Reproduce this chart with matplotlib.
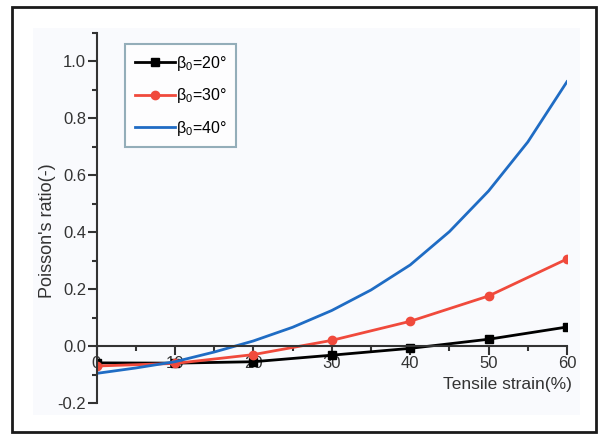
import matplotlib
matplotlib.use("Agg")
import matplotlib.pyplot as plt
from matplotlib.ticker import MultipleLocator, FormatStrFormatter
from matplotlib.patches import Rectangle

# Data
strain_markers = [0, 10, 20, 30, 40, 50, 60]
beta20 = [-0.059, -0.060, -0.055, -0.032, -0.008, 0.024, 0.067]
beta30 = [-0.070, -0.061, -0.030, 0.020, 0.087, 0.176, 0.306]
strain_curve = [0, 5, 10, 15, 20, 25, 30, 35, 40, 45, 50, 55, 60]
beta40 = [-0.096, -0.077, -0.055, -0.021, 0.018, 0.066, 0.125, 0.197, 0.285, 0.402, 0.545, 0.717, 0.929]
labels = [r'$\beta_0$=20°', r'$\beta_0$=30°', r'$\beta_0$=40°']
xticks = [0, 10, 20, 30, 40, 50, 60]
yticks = [-0.2, 0.0, 0.2, 0.4, 0.6, 0.8, 1.0]

plt.rcParams['font.family'] = ['Liberation Sans', 'DejaVu Sans']
plt.rcParams['mathtext.fontset'] = 'custom'
plt.rcParams['mathtext.rm'] = 'Liberation Sans'
plt.rcParams['mathtext.it'] = 'Liberation Sans'
plt.rcParams['mathtext.default'] = 'regular'

W, H = 598, 434
fig = plt.figure(figsize=(W / 100, H / 100), dpi=100)
fig.patch.set_facecolor('white')

# light plot-area background
fig.patches.append(Rectangle((33 / W, 1 - 415 / H), (580 - 33) / W, (415 - 28) / H,
                             transform=fig.transFigure, facecolor='#f9fafd',
                             edgecolor='none', zorder=-5))
# figure border
fig.patches.append(Rectangle((12 / W, 1 - 432 / H), (596 - 12) / W, (432 - 7) / H,
                             transform=fig.transFigure, fill=False,
                             edgecolor='#1a1a1a', linewidth=2.0, zorder=-4))

ax = fig.add_axes([96.5 / W, 1 - 403 / H, (567 - 96.5) / W, (403 - 33) / H])
ax.set_facecolor('none')
ax.set_zorder(2)

ax.plot(strain_markers, beta20, color='black', lw=2.0, marker='s', ms=6, label=labels[0])
ax.plot(strain_markers, beta30, color='#f04a3c', lw=2.0, marker='o', ms=6, label=labels[1])
ax.plot(strain_curve, beta40, color='#1f6cc4', lw=2.0, label=labels[2])

ax.set_xlim(0, 60)
ax.set_ylim(-0.2, 1.1)
ax.spines['top'].set_visible(False)
ax.spines['right'].set_visible(False)
ax.spines['bottom'].set_position(('data', 0))
for s in ['left', 'bottom']:
    ax.spines[s].set_linewidth(1.5)
    ax.spines[s].set_color('#333333')
ax.set_xticks(xticks)
ax.set_yticks(yticks)
ax.xaxis.set_minor_locator(MultipleLocator(5))
ax.yaxis.set_minor_locator(MultipleLocator(0.1))
ax.yaxis.set_major_formatter(FormatStrFormatter('%.1f'))
ax.tick_params(which='major', direction='out', length=6.5, width=1.5, color='#333333',
               labelsize=12, labelcolor='#333333')
ax.tick_params(which='minor', direction='out', length=3.6, width=1.5, color='#333333')
ax.tick_params(axis='x', pad=1)
ax.tick_params(axis='y', pad=1)

fig.text(47 / W, 1 - 231 / H, "Poisson's ratio(-)", rotation=90, ha='center', va='center',
         fontsize=13, color='#333333')
fig.text(572 / W, 1 - 385 / H, "Tensile strain(%)", ha='right', va='center',
         fontsize=12.5, color='#333333')

leg = ax.legend(loc='upper left', bbox_to_anchor=((125 - 96.5) / (567 - 96.5), (403 - 44) / (403 - 33)),
                frameon=True, fancybox=False, fontsize=11.5, handlelength=2.5,
                handletextpad=0.1, borderpad=0.6, labelspacing=0.85, borderaxespad=0)
leg.get_frame().set_edgecolor('#7a9aa8')
leg.get_frame().set_linewidth(1.5)

fig.savefig('out.png', dpi=100)
